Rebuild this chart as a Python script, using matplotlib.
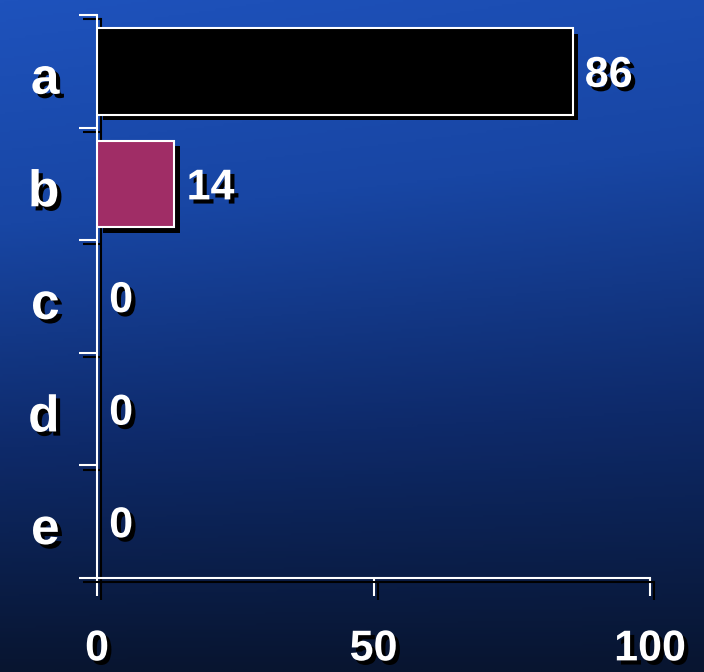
import numpy as np
import matplotlib
matplotlib.use("Agg")
import matplotlib.pyplot as plt
import matplotlib.patheffects as pe
from matplotlib.colors import LinearSegmentedColormap

categories = ["a", "b", "c", "d", "e"]
values = [86, 14, 0, 0, 0]
bar_colors = ["#000000", "#A02D66", "#000000", "#000000", "#000000"]
xticks = [0, 50, 100]

plt.rcParams['font.family'] = ['Liberation Sans', 'DejaVu Sans']

fig = plt.figure(figsize=(7.04, 6.72), dpi=100)

# background gradient
bg = fig.add_axes([0, 0, 1, 1])
bg.set_axis_off()
yy, xx = np.mgrid[0:1:300j, 0:1:300j]
grad = 0.85 * yy + 0.15 * (1 - xx) * yy
cmap = LinearSegmentedColormap.from_list("bgc", ["#081530", "#0E2A6A", "#1846A4", "#1E52BC"])
bg.imshow(grad, cmap=cmap, origin="lower", extent=[0, 1, 0, 1], aspect="auto")
bg.set_xlim(0, 1); bg.set_ylim(0, 1)

ax = fig.add_axes([97/704, 1 - 578/672, 553/704, 563/672])
ax.patch.set_alpha(0)

shadow_line = [pe.SimpleLineShadow(offset=(3, -3), shadow_color='black', alpha=1.0), pe.Normal()]
shadow_patch = [pe.SimplePatchShadow(offset=(4, -4), shadow_rgbFace='black', alpha=1.0), pe.Normal()]
shadow_text = [pe.withSimplePatchShadow(offset=(3, -3), shadow_rgbFace='black', alpha=1.0)]

y = np.arange(len(categories))
bars = ax.barh(y, values, height=0.77, color=bar_colors, edgecolor='white', linewidth=1.5, zorder=3)
for b, v in zip(bars, values):
    if v > 0:
        b.set_path_effects(shadow_patch)
    else:
        b.set_visible(False)

for yi, v in zip(y, values):
    ax.text(v + 2.2, yi + 0.04, f"{v}", va='center', ha='left', color='white',
            fontsize=31, fontweight='bold', path_effects=shadow_text, zorder=5)

ax.set_xlim(0, 100)
ax.set_ylim(len(categories) - 0.5, -0.5)
ax.set_xticks(xticks)
ax.set_xticklabels([str(t) for t in xticks])
ax.set_yticks(y + 0.03)
ax.set_yticklabels(categories)
ax.set_yticks(np.arange(-0.5, len(categories), 1.0), minor=True)

for side in ['top', 'right']:
    ax.spines[side].set_visible(False)
for side in ['left', 'bottom']:
    ax.spines[side].set_color('white')
    ax.spines[side].set_linewidth(1.5)
    ax.spines[side].set_path_effects(shadow_line)

ax.tick_params(axis='x', which='major', direction='out', length=13, width=1.5, color='white',
               pad=24, labelsize=31, labelcolor='white')
ax.tick_params(axis='y', which='major', length=0, pad=27, labelsize=37, labelcolor='white')
ax.tick_params(axis='y', which='minor', direction='out', length=13, width=1.5, color='white')

for lbl in ax.get_xticklabels() + ax.get_yticklabels():
    lbl.set_fontweight('bold')
    lbl.set_path_effects(shadow_text)
for tl in ax.xaxis.get_ticklines() + ax.yaxis.get_ticklines(minor=True):
    tl.set_path_effects(shadow_line)

fig.savefig("out.png", dpi=100)
